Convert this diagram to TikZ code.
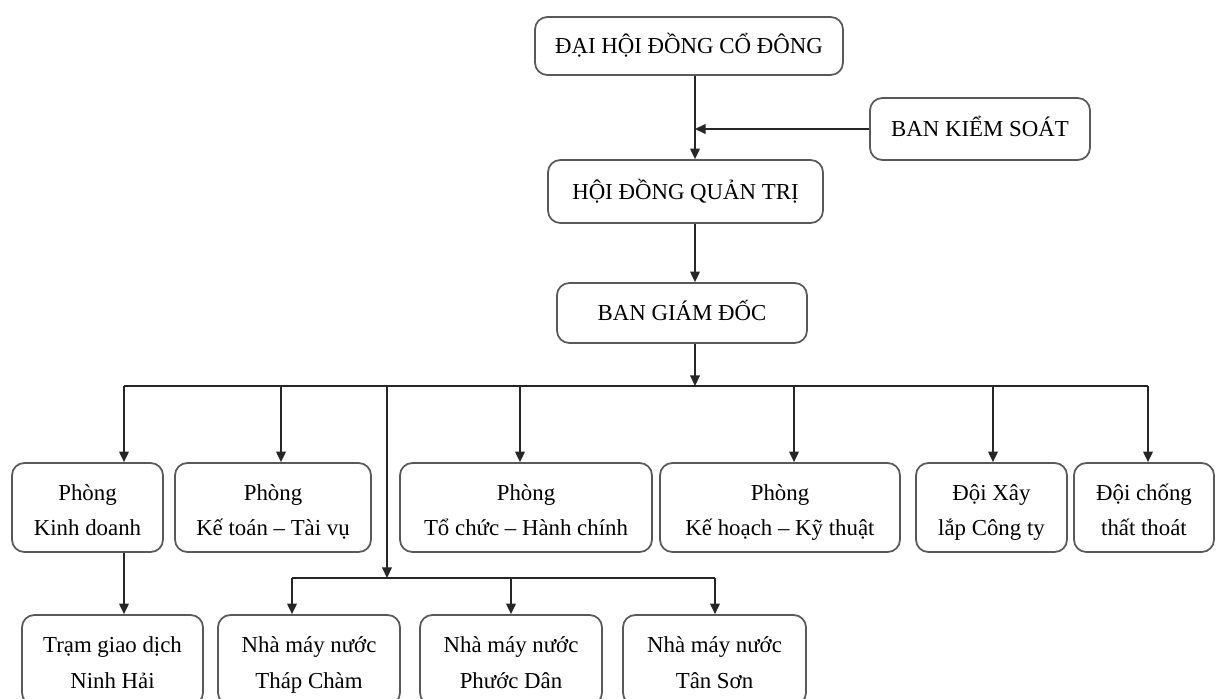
\documentclass[tikz,border=0pt]{standalone}
\usepackage{fontspec}
\setmainfont{Liberation Serif}
\usetikzlibrary{arrows.meta}
\newcommand\twol[2]{\smash{#1}\rule[-2pt]{0pt}{20pt}\\\smash{#2}\rule[-6.12pt]{0pt}{20.12pt}}
\newcommand\onel[1]{\smash{#1}\rule[-4pt]{0pt}{17pt}}
\tikzset{
  box/.style={draw=black!65, line width=1pt, rounded corners=7pt, fill=white,
    align=center, inner sep=0pt, font=\fontsize{13}{20.4}\selectfont},
  conn/.style={draw=black!85, line width=0.9pt},
  arr/.style={conn, -{Triangle[length=6pt,width=5.5pt]}}
}
\begin{document}
\begin{tikzpicture}[x=0.02cm,y=-0.02cm]
\useasboundingbox (0,0) rectangle (1218,699);
\clip (0,0) rectangle (1218,699);
% top chain
\node[box, minimum width=308*0.02cm, minimum height=58*0.02cm] (dh) at (689,46) {\onel{ĐẠI HỘI ĐỒNG CỔ ĐÔNG}};
\node[box, minimum width=220*0.02cm, minimum height=62*0.02cm] (bks) at (980,129) {\onel{BAN KIỂM SOÁT}};
\node[box, minimum width=275*0.02cm, minimum height=63*0.02cm] (hd) at (685.5,191.5) {\onel{HỘI ĐỒNG QUẢN TRỊ}};
\node[box, minimum width=250*0.02cm, minimum height=60*0.02cm] (bgd) at (682,313) {\onel{BAN GIÁM ĐỐC}};
% middle row
\node[box, minimum width=151*0.02cm, minimum height=89*0.02cm] (kd) at (87.5,507.5) {\twol{Phòng}{Kinh doanh}};
\node[box, minimum width=196*0.02cm, minimum height=89*0.02cm] (kt) at (273,507.5) {\twol{Phòng}{Kế toán – Tài vụ}};
\node[box, minimum width=252*0.02cm, minimum height=89*0.02cm] (tc) at (526,507.5) {\twol{Phòng}{Tổ chức – Hành chính}};
\node[box, minimum width=240*0.02cm, minimum height=89*0.02cm] (kh) at (780,507.5) {\twol{Phòng}{Kế hoạch – Kỹ thuật}};
\node[box, minimum width=151*0.02cm, minimum height=89*0.02cm] (dx) at (991.5,507.5) {\twol{Đội Xây}{lắp Công ty}};
\node[box, minimum width=140*0.02cm, minimum height=89*0.02cm] (dc) at (1144,507.5) {\twol{Đội chống}{thất thoát}};
% bottom row
\node[box, minimum width=181*0.02cm, minimum height=90*0.02cm] (tr) at (112.5,660) {\twol{Trạm giao dịch}{Ninh Hải}};
\node[box, minimum width=182*0.02cm, minimum height=90*0.02cm] (tp) at (309,660) {\twol{Nhà máy nước}{Tháp Chàm}};
\node[box, minimum width=182*0.02cm, minimum height=90*0.02cm] (pd) at (511,660) {\twol{Nhà máy nước}{Phước Dân}};
\node[box, minimum width=183*0.02cm, minimum height=90*0.02cm] (ts) at (714.5,660) {\twol{Nhà máy nước}{Tân Sơn}};
% helper coordinates
\coordinate (vx) at (695,0);
\coordinate (bus) at (0,386);
\coordinate (sub) at (0,578);
\coordinate (xkd) at (124,0);
\coordinate (xkt) at (281,0);
\coordinate (xnm) at (387,0);
\coordinate (xtc) at (520,0);
\coordinate (xkh) at (794,0);
\coordinate (xdx) at (993,0);
\coordinate (xdc) at (1148,0);
\coordinate (xtp) at (292,0);
\coordinate (xpd) at (511,0);
\coordinate (xts) at (715,0);
% connectors top
\draw[arr] (dh.south -| vx) -- (hd.north -| vx);
\draw[arr] (bks.west) -- (bks.west -| vx);
\draw[arr] (hd.south -| vx) -- (bgd.north -| vx);
\draw[arr] (bgd.south -| vx) -- (vx |- bus);
% main bus
\draw[conn] (xkd |- bus) -- (xdc |- bus);
\draw[arr] (xkd |- bus) -- (xkd |- kd.north);
\draw[arr] (xkt |- bus) -- (xkt |- kt.north);
\draw[arr] (xtc |- bus) -- (xtc |- tc.north);
\draw[arr] (xkh |- bus) -- (xkh |- kh.north);
\draw[arr] (xdx |- bus) -- (xdx |- dx.north);
\draw[arr] (xdc |- bus) -- (xdc |- dc.north);
\draw[arr] (xnm |- bus) -- (xnm |- sub);
% sub bus
\draw[conn] (xtp |- sub) -- (xts |- sub);
\draw[arr] (xtp |- sub) -- (xtp |- tp.north);
\draw[arr] (xpd |- sub) -- (xpd |- pd.north);
\draw[arr] (xts |- sub) -- (xts |- ts.north);
\draw[arr] (xkd |- kd.south) -- (xkd |- tr.north);
\end{tikzpicture}
\end{document}
